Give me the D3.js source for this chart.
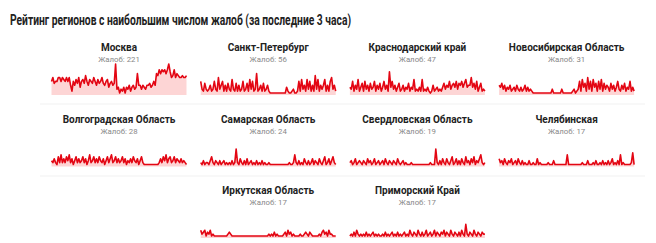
<!DOCTYPE html>
<html>
<head>
<meta charset="utf-8">
<script src="https://cdn.jsdelivr.net/npm/d3@7"></script>
<style>
  body { margin: 0; background: #fff; }
  svg { display: block; }
</style>
</head>
<body>
<div id="chart"></div>
<script>
var title = "Рейтинг регионов с наибольшим числом жалоб (за последние 3 часа)";

var regions = ["Москва", "Санкт-Петербург", "Краснодарский край", "Новосибирская Область",
  "Волгоградская Область", "Самарская Область", "Свердловская Область", "Челябинская",
  "Иркутская Область", "Приморский Край"];

var totals = [221, 56, 47, 31, 28, 24, 19, 17, 17, 17];

// activity per time bucket (100 buckets over 3 hours)
var moscow = [6,8,5,6,6,8,8,6,8,7,6,8,6,8, 4,1,
  6,4,7,5,8,3,6,7,5,9,6,4,7,6,5,8,6,4,7,5,6,8,5,4,6,7,3,5,6,4,5,
  15, 2,3,0,2,1,3,0,3,2,4,1,3,4,2, 3,10,
  4,4,2,4,3,2,4,4,5,3,4,6,4,
  10,9,12,10,12,11,12,10,12,15,11,8,9,12,8,10,9, 8,8,9,8,8,9];
var spb = [6,2,1,5,2,1,2,4,1,2, 6,2,1,8,2,4,6,1,4,1, 5,2,1,7,2,1,5,1,4,1, 2,6,1,2,5,1,7,2,6,1,
  2,10,1,2,4,1,5,1,2,4, 1,0,0,0,0,0,0,0,0,0, 0,0,0,3,1,0,0,1,2,0, 0,1,6,1,7,2,4,1,7,2,
  6,1,4,1,9,2,7,1,4,2, 4,7,1,4,1,6,8,2,4,1];
var krasnodar = [3,2,6,1,4,2,7,1,3,5, 1,6,2,4,1,5,2,3,6,1, 4,2,5,1,3,6,2,4,1, 11,3,6,
  2,4,1,3,5,1,2,4,1,3,2,5,1,3,2, 7, 1,2,1,3,1, 7, 1,2,1,3,1,0,1,4,1,2,3,1,2,1,
  3,5,2,4,3,6,2,4,5,3,6,2,5,4,6,3,5,7,3,4, 4,8,3, 5,2,6,1,3,5,1,2,1];
var novosib = [4,3,5,2,4,1,3,2,4,1,2,3,1,4,2,1,3,1,2,4,1,3,1,2,1,0,
  0,0,0,0,0,0,0,0,0,0,0,0,0,2,0,0,0,0,0,0,2,0,0,0,0,0,0,0,1,2,0,1,
  2,6,1,7,3,5,1,8,2,6,1,7,3,5,1,6,2,7,1,5,2,4,
  3,1,5,2,4,1,3,6,2,1,4,2,5,1,3,2,6,1,3,1];
var volgograd = [2,1,3,1,0,4,1,5,1,3, 1,4,2,5,1,3,0,2,4,1, 3,1,2,4,1,3,0,2,5,1, 2,4,1,3,1,4,2,1,3,0,
  2,4,1,3,5,1,2,4,1,3, 1,2,4,1,3,0,2,1,3,1, 4,2,1,3,0,2,4,1,0,0, 0,0,0,0,0,0,0,0,0,1,
  3,1,4,2,5,1,3,4,1,2, 4,1,3,2,1,3,1,2,1,0];
var samara = [1,0,2,0,1,1,0,2,4,1, 0,2,1,0,2,0,1,2,0,1, 0,1,0,2,0,1,8,1,0,3, 1,0,2,0,3,0,1,2,0,1,
  0,2,0,1,0,2,0,1,0,0, 1,0,0,0,0,0,0,0,0,0, 0,0,0,0,0,1,0,0,1,5, 1,0,2,0,1,0,3,1,0,2,
  0,1,3,0,2,1,0,3,1,0, 2,4,0,1,3,0,2,4,1,0];
var sverdlovsk = [1,2,0,1,3,0,1,2,1,0, 2,1,0,3,1,2,0,1,3,0, 1,2,0,1,2,0,3,1,0,2, 1,0,2,1,0,3,1,0,1,2,
  0,1,0,0,0,1,0,0,0,0, 0,0,0,0,0,0,0,0,0,1, 0,0,0,8,1,0,2,0,3,1, 0,3,1,0,2,4,0,1,3,0,
  2,0,3,1,0,4,1,2,0,3, 1,4,0,2,1,3,5,1,0,1];
var chelyabinsk = [3,1,2,0,3,1,0,2,1,3, 0,1,2,0,3,1,0,2,0,1, 0,0,2,0,0,1,0,0,3,0, 1,0,0,0,0,0,1,0,0,0,
  2,0,0,0,0,0,0,0,0,0, 5,0,0,0,0,0,0,0,0,0, 0,1,0,0,0,2,0,0,0,1, 0,2,0,0,1,0,2,0,1,0,
  2,0,1,3,0,1,0,2,0,5, 0,1,0,0,0,0,0,1,6,0];
var irkutsk = [3,1,2,3,0,2,1,3,0,1, 0,0,0,0,0,0,0,0,0,0, 1,2,1,0,0,0,0,0,0,0, 0,0,0,0,0,0,0,0,0,0,
  0,0,0,0,0,0,0,0,0,0, 1,0,1,0,2,0,1,0,0,0, 0,1,2,0,3,1,2,0,1,0, 0,0,0,1,0,0,1,2,1,0,
  2,1,0,0,0,0,0,1,0,2, 3,1,2,0,3,1,1,0,0,0];
var primorsky = [0,1,0,2,0,3,1,0,1,0, 1,0,2,0,1,0,1,2,0,1, 0,1,0,0,1,0,2,0,1,0, 1,2,0,1,0,2,0,1,0,1,
  2,0,1,0,3,1,0,2,1,0, 3,1,0,2,0,1,3,0,1,2, 0,1,3,0,2,1,0,2,1,3, 0,2,1,0,3,1,0,2,1,0,
  2,0,3,1,0,6,1,0,2,1, 0,3,1,0,2,1,0,2,1,1];

var series = [moscow, spb, krasnodar, novosib, volgograd, samara, sverdlovsk, chelyabinsk, irkutsk, primorsky];
// grid slot of each region: [column, row]
var slots = [[0,0],[1,0],[2,0],[3,0],[0,1],[1,1],[2,1],[3,1],[1,2],[2,2]];

var width = 656, height = 243;
var colW = 149.2, firstCenter = 119, rowH = 71.5;
var sparkW = 135, sparkH = 33;

var svg = d3.select("#chart").append("svg")
  .attr("width", width)
  .attr("height", height);

svg.append("text")
  .attr("x", 10)
  .attr("y", 25)
  .attr("textLength", 341)
  .attr("lengthAdjust", "spacingAndGlyphs")
  .style("font-family", "'Liberation Sans Narrow', 'Roboto', sans-serif")
  .style("font-weight", "bold")
  .style("font-size", "14px")
  .style("fill", "#222")
  .text(title);

// faint row separators
[104, 176].forEach(function(y){
  svg.append("line")
    .attr("x1", 40).attr("x2", 645)
    .attr("y1", y).attr("y2", y)
    .attr("stroke", "#f1f1f1");
});

// shared scale; zero sits a little above the fill bottom
var y = d3.scaleLinear().domain([-1, 16]).range([sparkH, 0]);

regions.forEach(function(name, i){
  var data = series[i];
  var cx = firstCenter + slots[i][0] * colW;
  var top = 51 + slots[i][1] * rowH;

  var g = svg.append("g").attr("transform", "translate(" + cx + "," + top + ")");

  g.append("text")
    .attr("text-anchor", "middle")
    .style("font-family", "Roboto, sans-serif")
    .style("font-weight", "bold")
    .style("font-size", "10px")
    .style("fill", "#222")
    .text(name);

  g.append("text")
    .attr("y", 11)
    .attr("text-anchor", "middle")
    .style("font-family", "Roboto, sans-serif")
    .style("font-size", "7.8px")
    .style("fill", "#888")
    .text("Жалоб: " + totals[i]);

  var x = d3.scaleLinear().domain([0, data.length - 1]).range([-sparkW / 2, sparkW / 2]);

  var spark = g.append("g").attr("transform", "translate(0," + (44 - sparkH) + ")");

  spark.append("path")
    .datum(data)
    .attr("fill", "#fdd5d5")
    .attr("d", d3.area()
      .x(function(d, j){ return x(j); })
      .y0(sparkH)
      .y1(function(d){ return y(d); }));

  spark.append("path")
    .datum(data)
    .attr("fill", "none")
    .attr("stroke", "#e30613")
    .attr("stroke-width", 1.6)
    .attr("stroke-linejoin", "round")
    .attr("d", d3.line()
      .x(function(d, j){ return x(j); })
      .y(function(d){ return y(d); }));
});
</script>
</body>
</html>
